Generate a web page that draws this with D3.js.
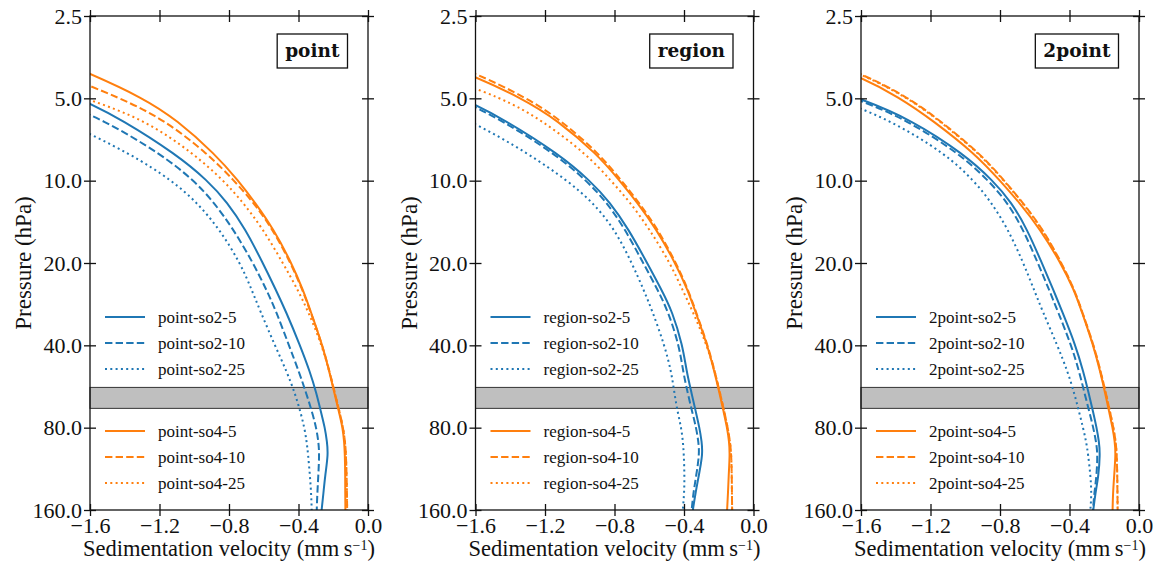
<!DOCTYPE html>
<html>
<head>
<meta charset="utf-8">
<script src="https://cdn.jsdelivr.net/npm/d3@7"></script>
<style>
  body { margin: 0; background: #fff; }
  svg text { font-family: "Liberation Serif", "DejaVu Serif", serif; fill: #111; }
</style>
</head>
<body>
<div id="chart"></div>
<script>
// pressure levels (hPa) the velocity profiles are sampled on
var pressure = [3, 4, 5, 6, 8, 10, 12, 15, 20, 25, 30, 40, 50, 60, 70, 80, 90, 100, 120, 140, 160];

// sedimentation velocity (mm/s) per run
var pointSo2_5  = [-2.6, -2.05, -1.653, -1.413, -1.105, -0.922, -0.81, -0.707, -0.605, -0.531, -0.473, -0.391, -0.334, -0.296, -0.271, -0.248, -0.236, -0.229, -0.247, -0.257, -0.267];
var pointSo2_10 = [-3.1, -2.32, -1.82, -1.52, -1.19, -1.0, -0.887, -0.776, -0.661, -0.585, -0.529, -0.455, -0.397, -0.355, -0.322, -0.298, -0.285, -0.28, -0.286, -0.292, -0.295];
var pointSo2_25 = [-3.63, -2.68, -2.1, -1.764, -1.361, -1.127, -0.985, -0.856, -0.735, -0.67, -0.62, -0.536, -0.467, -0.42, -0.389, -0.366, -0.353, -0.345, -0.334, -0.327, -0.324];
var pointSo4_5  = [-2.1, -1.62, -1.29, -1.10, -0.88, -0.746, -0.651, -0.545, -0.44, -0.375, -0.33, -0.262, -0.222, -0.193, -0.167, -0.146, -0.137, -0.133, -0.131, -0.131, -0.130];
var pointSo4_10 = [-2.4, -1.80, -1.42, -1.17, -0.92, -0.77, -0.66, -0.55, -0.445, -0.378, -0.332, -0.262, -0.221, -0.19, -0.164, -0.143, -0.132, -0.127, -0.123, -0.121, -0.12];
var pointSo4_25 = [-3.0, -2.1, -1.62, -1.28, -1.0, -0.83, -0.72, -0.605, -0.49, -0.405, -0.345, -0.265, -0.222, -0.19, -0.164, -0.143, -0.132, -0.127, -0.123, -0.121, -0.12];

var regionSo2_5  = [-2.62, -2.07, -1.67, -1.43, -1.12, -0.94, -0.826, -0.72, -0.612, -0.53, -0.468, -0.408, -0.385, -0.356, -0.332, -0.311, -0.298, -0.292, -0.315, -0.335, -0.349];
var regionSo2_10 = [-2.66, -2.1, -1.70, -1.45, -1.14, -0.96, -0.845, -0.74, -0.635, -0.552, -0.492, -0.428, -0.405, -0.378, -0.353, -0.33, -0.317, -0.311, -0.33, -0.347, -0.356];
var regionSo2_25 = [-3.3, -2.37, -1.95, -1.63, -1.29, -1.07, -0.925, -0.80, -0.70, -0.633, -0.582, -0.512, -0.473, -0.455, -0.437, -0.416, -0.406, -0.401, -0.397, -0.399, -0.407];
var regionSo4_5  = [-2.2, -1.66, -1.33, -1.13, -0.90, -0.77, -0.67, -0.56, -0.45, -0.38, -0.335, -0.265, -0.225, -0.195, -0.172, -0.152, -0.14, -0.136, -0.143, -0.147, -0.152];
var regionSo4_10 = [-2.15, -1.61, -1.30, -1.11, -0.885, -0.76, -0.66, -0.552, -0.445, -0.377, -0.332, -0.263, -0.222, -0.192, -0.168, -0.148, -0.135, -0.128, -0.125, -0.124, -0.123];
var regionSo4_25 = [-2.7, -1.86, -1.44, -1.22, -0.96, -0.82, -0.71, -0.60, -0.48, -0.41, -0.35, -0.268, -0.222, -0.192, -0.168, -0.148, -0.135, -0.128, -0.125, -0.124, -0.123];

var twoPointSo2_5  = [-2.82, -2.07, -1.6, -1.309, -1.007, -0.84, -0.734, -0.645, -0.559, -0.494, -0.443, -0.365, -0.32, -0.289, -0.264, -0.244, -0.23, -0.224, -0.233, -0.252, -0.263];
var twoPointSo2_10 = [-2.86, -2.1, -1.625, -1.335, -1.03, -0.865, -0.758, -0.668, -0.582, -0.518, -0.468, -0.389, -0.344, -0.313, -0.286, -0.263, -0.247, -0.238, -0.244, -0.258, -0.265];
var twoPointSo2_25 = [-2.95, -2.2, -1.75, -1.43, -1.11, -0.95, -0.85, -0.755, -0.665, -0.605, -0.555, -0.47, -0.41, -0.372, -0.345, -0.322, -0.304, -0.293, -0.279, -0.273, -0.28];
var twoPointSo4_5  = [-2.25, -1.65, -1.37, -1.19, -0.94, -0.80, -0.69, -0.57, -0.45, -0.375, -0.33, -0.263, -0.223, -0.194, -0.172, -0.152, -0.139, -0.134, -0.143, -0.15, -0.152];
var twoPointSo4_10 = [-2.15, -1.61, -1.32, -1.15, -0.91, -0.775, -0.67, -0.555, -0.445, -0.372, -0.328, -0.26, -0.22, -0.19, -0.167, -0.147, -0.134, -0.128, -0.125, -0.124, -0.123];
var twoPointSo4_25 = [-2.16, -1.615, -1.325, -1.155, -0.915, -0.778, -0.672, -0.557, -0.447, -0.373, -0.329, -0.261, -0.221, -0.19, -0.167, -0.147, -0.134, -0.128, -0.125, -0.124, -0.123];

var experiments = ["point", "region", "2point"];
var runNames = ["so2-5", "so2-10", "so2-25", "so4-5", "so4-10", "so4-25"];
var runsByExperiment = [
    [pointSo2_5, pointSo2_10, pointSo2_25, pointSo4_5, pointSo4_10, pointSo4_25],
    [regionSo2_5, regionSo2_10, regionSo2_25, regionSo4_5, regionSo4_10, regionSo4_25],
    [twoPointSo2_5, twoPointSo2_10, twoPointSo2_25, twoPointSo4_5, twoPointSo4_10, twoPointSo4_25]
];

var xTicks = [-1.6, -1.2, -0.8, -0.4, 0.0];
var yTicks = [2.5, 5.0, 10.0, 20.0, 40.0, 80.0, 160.0];
var layerBounds = [57, 68];   // shaded pressure layer (hPa)

var W = 1153, H = 563;
var margin = {top: 16, left: 90},
    width = 278,
    height = 494,
    panelStep = 385.5;

var blue = "#1f77b4", orange = "#ff7f0e";
var dashes = ["none", "7.4,3.2", "2,3.3"];

var svg = d3.select("#chart")
    .append("svg")
        .attr("width", W)
        .attr("height", H);

var x = d3.scaleLinear()
    .domain([-1.6, 0])
    .range([0, width]);

var y = d3.scaleLog()
    .domain([2.5, 160])
    .range([0, height]);

var line = d3.line()
    .x(function (d) { return x(d[1]); })
    .y(function (d) { return y(d[0]); })
    .curve(d3.curveBasis);

var fmt = d3.format(".1f");

experiments.forEach(function (name, i) {
    var g = svg.append("g")
        .attr("transform", "translate(" + (margin.left + i * panelStep) + "," + margin.top + ")");

    g.append("clipPath")
        .attr("id", "clip" + i)
      .append("rect")
        .attr("width", width)
        .attr("height", height);

    // shaded layer
    g.append("rect")
        .attr("x", 0)
        .attr("width", width)
        .attr("y", y(layerBounds[0]))
        .attr("height", y(layerBounds[1]) - y(layerBounds[0]))
        .style("fill", "#bfbfbf")
        .style("stroke", "#333")
        .style("stroke-width", 1);

    var runs = runsByExperiment[i];
    g.append("g")
        .attr("clip-path", "url(#clip" + i + ")")
        .selectAll("path")
        .data(runs)
        .enter()
        .append("path")
        .attr("d", function (vals) { return line(pressure.map(function (p, k) { return [p, vals[k]]; })); })
        .style("fill", "none")
        .style("stroke", function (d, k) { return k < 3 ? blue : orange; })
        .style("stroke-width", 2)
        .style("stroke-dasharray", function (d, k) { return dashes[k % 3]; });

    // axes, ticks pointing both in and out
    var inout = function (sel, attr) {
        sel.selectAll(".tick line").attr(attr + "1", 6).attr(attr + "2", -6);
        sel.select(".domain").remove();
    };
    var inoutRev = function (sel, attr) {
        sel.selectAll(".tick line").attr(attr + "1", -6).attr(attr + "2", 6);
        sel.select(".domain").remove();
    };

    g.append("g")
        .attr("transform", "translate(0," + height + ")")
        .call(d3.axisBottom(x).tickValues(xTicks).tickFormat(fmt).tickSize(6).tickPadding(1))
        .call(inoutRev, "y");
    g.append("g")
        .call(d3.axisTop(x).tickValues(xTicks).tickFormat("").tickSize(6))
        .call(inout, "y");
    g.append("g")
        .call(d3.axisLeft(y).tickValues(yTicks).tickFormat(fmt).tickSize(6).tickPadding(2))
        .call(inout, "x");
    g.append("g")
        .attr("transform", "translate(" + width + ",0)")
        .call(d3.axisRight(y).tickValues(yTicks).tickFormat("").tickSize(6))
        .call(inoutRev, "x");

    g.selectAll(".tick line").style("stroke", "#111").style("stroke-width", 1.3);
    g.selectAll(".tick text")
        .style("font-family", "'Liberation Serif', serif")
        .style("font-size", "22px")
        .style("fill", "#111");

    g.append("rect")
        .attr("width", width)
        .attr("height", height)
        .style("fill", "none")
        .style("stroke", "#111")
        .style("stroke-width", 1.3);

    g.append("text")
        .attr("x", width / 2)
        .attr("y", 540)
        .attr("text-anchor", "middle")
        .style("font-size", "22.5px")
        .html("Sedimentation velocity (mm\u2009s<tspan dy='-6' font-size='14px'>\u22121</tspan><tspan dy='6'>)</tspan>");

    g.append("text")
        .attr("transform", "translate(-59," + height / 2 + ") rotate(-90)")
        .attr("text-anchor", "middle")
        .style("font-size", "23px")
        .text("Pressure (hPa)");

    // panel title in a box
    var title = g.append("text")
        .attr("x", width - 28.5)
        .attr("y", 40.7)
        .attr("text-anchor", "end")
        .style("font-family", "'DejaVu Serif', serif")
        .style("font-weight", "bold")
        .style("font-size", "18.5px")
        .text(name);
    var bb = title.node().getBBox();
    g.insert("rect", function () { return title.node(); })
        .attr("x", bb.x - 8)
        .attr("y", 18)
        .attr("width", width - 20.5 - (bb.x - 8))
        .attr("height", 34)
        .style("fill", "#fff")
        .style("stroke", "#111")
        .style("stroke-width", 1.3);

    // legends: so2 runs, then so4 runs
    var legendTop = [301, 415];
    runNames.forEach(function (run, k) {
        var ly = legendTop[Math.floor(k / 3)] + (k % 3) * 26;
        g.append("line")
            .attr("x1", 15).attr("x2", 55)
            .attr("y1", ly).attr("y2", ly)
            .style("stroke", k < 3 ? blue : orange)
            .style("stroke-width", 2)
            .style("stroke-dasharray", dashes[k % 3]);
        g.append("text")
            .attr("x", 68)
            .attr("y", ly + 6)
            .style("font-size", "17px")
            .text(name + "-" + run);
    });
});
</script>
</body>
</html>
